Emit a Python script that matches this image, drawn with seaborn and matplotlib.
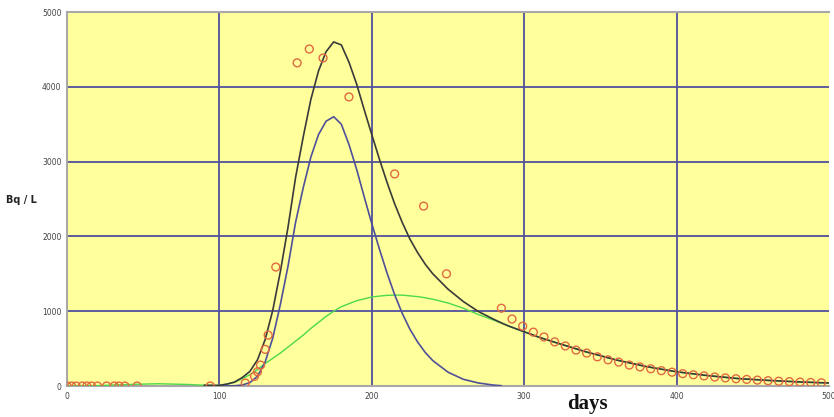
import numpy as np
import pandas as pd
import matplotlib
matplotlib.use("Agg")
import matplotlib.pyplot as plt
import seaborn as sns

# ---- data ----
obs_days = [0, 3, 6, 10, 13, 16, 20, 26, 31, 34, 38, 46, 94,
            117, 123, 125, 127, 130, 132, 137,
            151, 159, 168, 185, 215, 234, 249,
            285, 292, 299, 306, 313, 320, 327, 334, 341, 348, 355, 362, 369, 376,
            383, 390, 397, 404, 411, 418, 425, 432, 439, 446, 453, 460, 467, 474,
            481, 488, 495]
obs_vals = [0, 0, 0, 0, 0, 0, 0, 0, 0, 0, 0, 0, 0,
            40, 130, 190, 280, 490, 680, 1590,
            4320, 4505, 4385, 3865, 2835, 2405, 1500,
            1040, 895, 800, 720, 655, 590, 535, 480, 440, 390, 350, 320, 280, 255,
            230, 205, 185, 165, 150, 135, 120, 108, 97, 88, 79, 71, 64, 58,
            52, 47, 43]

blue_days = [100, 105, 110, 115, 120, 125, 130, 135, 140, 145, 150, 155, 160,
             165, 170, 175, 180, 185, 190, 195, 200, 205, 210, 215, 220, 225,
             230, 235, 240, 250, 260, 270, 280, 285]
blue_vals = [0, 1, 3, 13, 45, 130, 320, 640, 1090, 1600, 2190, 2650, 3060,
             3360, 3540, 3600, 3500, 3230, 2900, 2530, 2170, 1830, 1510, 1220, 970, 760,
             590, 450, 340, 185, 90, 40, 12, 4]

green_days = [0, 20, 40, 60, 80, 95, 100, 105, 110, 115, 120, 125, 130, 135, 140,
              145, 150, 155, 160, 165, 170, 175, 180, 185, 190, 195, 200, 205, 210,
              215, 220, 225, 230, 235, 240, 250, 260, 270, 280, 285, 290, 300, 310,
              320, 340, 360, 380, 400, 420, 440, 460, 480, 500]
green_vals = [0, 5, 20, 30, 20, 5, 8, 25, 50, 100, 150, 220, 300, 370, 440,
              520, 600, 680, 770, 850, 930, 1000, 1060, 1100, 1140, 1165, 1190, 1202, 1212,
              1215, 1215, 1205, 1195, 1180, 1160, 1110, 1040, 955, 880, 840, 800, 725, 650,
              585, 460, 350, 260, 190, 140, 100, 75, 55, 40]

black_days = [90, 100, 105, 110, 115, 120, 125, 130, 135, 140, 145, 150, 155, 160,
              165, 170, 175, 180, 185, 190, 195, 200, 205, 210, 215, 220, 225, 230,
              235, 240, 250, 260, 270, 280, 285, 290, 300, 310, 320, 340, 360, 380,
              400, 420, 440, 460, 480, 500]
black_vals = [10, 8, 26, 53, 113, 195, 350, 620, 1010, 1530, 2120, 2790, 3330, 3830,
              4210, 4470, 4600, 4560, 4330, 4040, 3695, 3360, 3032, 2722, 2435, 2185, 1965, 1785,
              1630, 1500, 1295, 1130, 995, 892, 844, 800, 725, 650, 585, 460, 350, 260,
              190, 140, 100, 75, 55, 40]

x_ticks = [0, 100, 200, 300, 400, 500]
y_ticks = [0, 1000, 2000, 3000, 4000, 5000]

# ---- figure ----
sns.set_style("white")
plt.rcParams['font.family'] = ['DejaVu Sans']

fig = plt.figure(figsize=(8.34, 4.17), dpi=100)
ax = fig.add_axes([67 / 834, 31 / 417, 762 / 834, 374 / 417])
ax.set_facecolor("#FFFF9C")

grid_c = "#50509E"
for xv in x_ticks[1:-1]:
    ax.axvline(xv, color=grid_c, lw=1.3, zorder=1)
for yv in y_ticks[1:-1]:
    ax.axhline(yv, color=grid_c, lw=1.3, zorder=1)

df_g = pd.DataFrame({"day": green_days, "val": green_vals})
df_b = pd.DataFrame({"day": blue_days, "val": blue_vals})
df_k = pd.DataFrame({"day": black_days, "val": black_vals})
df_o = pd.DataFrame({"day": obs_days, "val": obs_vals})

sns.lineplot(data=df_g, x="day", y="val", color="#4CD84C", lw=1.0, ax=ax, zorder=3)
sns.lineplot(data=df_b, x="day", y="val", color="#50509A", lw=1.2, ax=ax, zorder=3)
sns.lineplot(data=df_k, x="day", y="val", color="#3A3A3A", lw=1.2, ax=ax, zorder=4)
sns.scatterplot(data=df_o, x="day", y="val", s=32, facecolors="none",
                edgecolor="#E06A40", linewidth=1.0, ax=ax, zorder=5)

ax.set_xlim(0, 500)
ax.set_ylim(0, 5000)
ax.set_xticks(x_ticks)
ax.set_yticks(y_ticks)
ax.set_xticklabels([str(v) for v in x_ticks])
ax.set_yticklabels([str(v) for v in y_ticks])
ax.tick_params(axis="both", labelsize=5.5, labelcolor="#444444", length=3,
               color="#4040C0", width=1.0, pad=1)
ax.set_xlabel("")
ax.set_ylabel("")
for s in ["left", "bottom", "top", "right"]:
    ax.spines[s].set_color("#A8A8A8")
    ax.spines[s].set_linewidth(1.5)
ax.spines["right"].set_visible(False)

fig.text(21 / 834, 1 - 200 / 417, "Bq / L", fontsize=7, fontweight="bold",
         ha="center", va="center", color="#222222")
fig.text(587 / 834, 1 - 404 / 417, "days", fontsize=15, fontweight="bold",
         family=["Liberation Serif"], ha="center", va="center", color="#111111")

fig.savefig("out.png", dpi=100)
